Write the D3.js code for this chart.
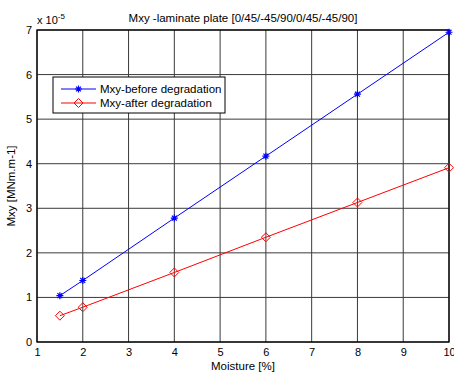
<!DOCTYPE html>
<html><head><meta charset="utf-8">
<script src="https://cdn.jsdelivr.net/npm/d3@7"></script>
<style>body{margin:0;background:#fff}svg{display:block;font-family:"Liberation Sans",Arial,sans-serif}</style>
</head><body><svg id="c" width="454" height="374"></svg>
<script>
const moisture = [1.5, 2, 4, 6, 8, 10];
const before = [1.04, 1.38, 2.78, 4.17, 5.56, 6.95];
const after = [0.59, 0.78, 1.56, 2.35, 3.13, 3.91];
const xTicks = [1,2,3,4,5,6,7,8,9,10];
const yTicks = [0,1,2,3,4,5,6,7];
const seriesNames = ["Mxy-before degradation","Mxy-after degradation"];

const svg = d3.select("#c");
const L=37, R=449, T=30, B=342;
const x = d3.scaleLinear().domain([1,10]).range([L,R]);
const y = d3.scaleLinear().domain([0,7]).range([B,T]);

// grid
const g = svg.append("g");
g.selectAll(".gx").data(xTicks).join("line").attr("x1",d=>x(d)).attr("x2",d=>x(d)).attr("y1",T).attr("y2",B).attr("stroke","#3a3a3a").attr("stroke-width",1);
g.selectAll(".gy").data(yTicks).join("line").attr("y1",d=>y(d)).attr("y2",d=>y(d)).attr("x1",L).attr("x2",R).attr("stroke","#3a3a3a").attr("stroke-width",1);

// axes
const xa = svg.append("g").attr("transform",`translate(0,${B})`).call(d3.axisBottom(x).tickValues(xTicks).tickFormat(d3.format("d")).tickSize(0).tickPadding(6));
const ya = svg.append("g").attr("transform",`translate(${L},0)`).call(d3.axisLeft(y).tickValues(yTicks).tickFormat(d3.format("d")).tickSize(0).tickPadding(5));
[xa,ya].forEach(a=>{a.select(".domain").remove();a.selectAll("text").attr("font-size",11).attr("fill","#000").attr("font-family","Liberation Sans, Arial, sans-serif");});
svg.append("rect").attr("x",L).attr("y",T).attr("width",R-L).attr("height",B-T).attr("fill","none").attr("stroke","#000").attr("stroke-width",1.3);

// lines
const line = d3.line().x((d,i)=>x(moisture[i])).y(d=>y(d));
svg.append("path").datum(before).attr("d",line).attr("fill","none").attr("stroke","#0000ff").attr("stroke-width",1);
svg.append("path").datum(after).attr("d",line).attr("fill","none").attr("stroke","#ff0000").attr("stroke-width",1);

function star(sel,cx,cy){
  const s=3.5;
  const p=`M${cx-s},${cy}L${cx+s},${cy}M${cx},${cy-s}L${cx},${cy+s}M${cx-s*0.7},${cy-s*0.7}L${cx+s*0.7},${cy+s*0.7}M${cx-s*0.7},${cy+s*0.7}L${cx+s*0.7},${cy-s*0.7}`;
  sel.append("path").attr("d",p).attr("stroke","#0000ff").attr("stroke-width",1.2).attr("fill","none");
}
function diamond(sel,cx,cy){
  const s=4.5;
  sel.append("path").attr("d",`M${cx},${cy-s}L${cx+s},${cy}L${cx},${cy+s}L${cx-s},${cy}Z`).attr("stroke","#ff0000").attr("stroke-width",1).attr("fill","none");
}
before.forEach((v,i)=>star(svg,x(moisture[i]),y(v)));
after.forEach((v,i)=>diamond(svg,x(moisture[i]),y(v)));

// title & labels
svg.append("text").attr("x",243).attr("y",22).attr("text-anchor","middle").attr("font-size",11.5).text("Mxy -laminate plate [0/45/-45/90/0/45/-45/90]");
const ex = svg.append("text").attr("x",37).attr("y",24).attr("font-size",11);
ex.append("tspan").text("x 10");
ex.append("tspan").attr("dy",-5).attr("font-size",8).text("-5");
svg.append("text").attr("x",243).attr("y",370).attr("text-anchor","middle").attr("font-size",11.5).text("Moisture [%]");
svg.append("text").attr("transform","translate(15,186) rotate(-90)").attr("text-anchor","middle").attr("font-size",11.5).text("Mxy [MNm.m-1]");

// legend
const lg = svg.append("g");
lg.append("rect").attr("x",53).attr("y",77).attr("width",172).attr("height",36).attr("fill","#fff").attr("stroke","#000").attr("stroke-width",1);
const ly=[89,103], cols=["#0000ff","#ff0000"];
seriesNames.forEach((n,i)=>{
  lg.append("line").attr("x1",61).attr("x2",96).attr("y1",ly[i]).attr("y2",ly[i]).attr("stroke",cols[i]).attr("stroke-width",1);
  if(i===0) star(lg,78.5,ly[i]); else diamond(lg,78.5,ly[i]);
  lg.append("text").attr("x",100).attr("y",ly[i]+4).attr("font-size",11.5).text(n);
});
</script></body></html>
